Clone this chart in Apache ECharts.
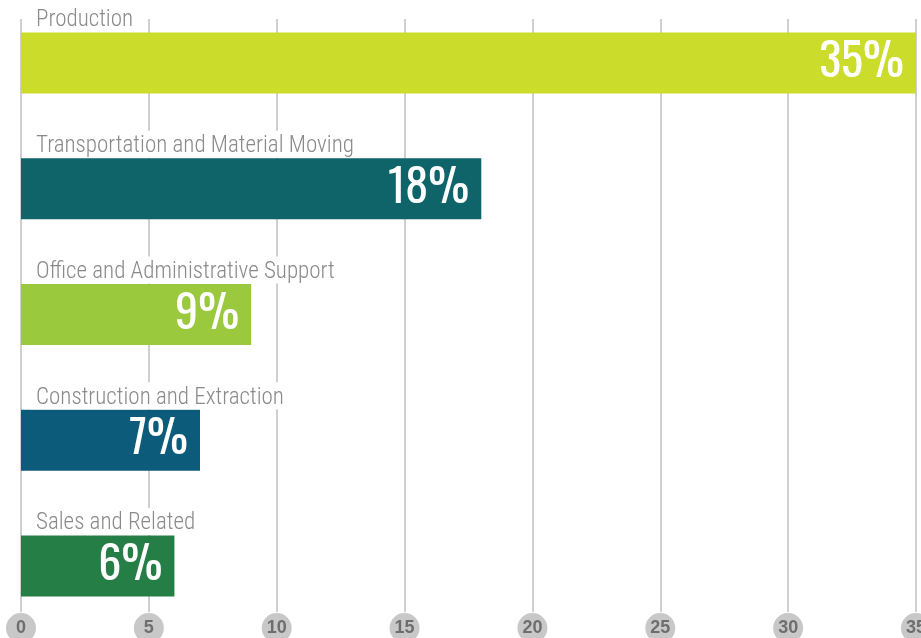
<!DOCTYPE html>
<html>
<head>
<meta charset="utf-8">
<script src="https://cdn.jsdelivr.net/npm/echarts@6/dist/echarts.min.js"></script>
<style>
    html, body { margin: 0; padding: 0; background: #fff; }
    #chart { width: 921px; height: 638px; }
</style>
</head>
<body>
<div id="chart"></div>
<script>
// data
var categories = ['Production', 'Transportation and Material Moving', 'Office and Administrative Support', 'Construction and Extraction', 'Sales and Related'];
var shares = [35, 18, 9, 7, 6];
var barColors = ['#cbdc2a', '#0f6469', '#9bc93d', '#0c5b7a', '#267e47'];
var tickValues = [0, 5, 10, 15, 20, 25, 30, 35];

var myChart = echarts.init(document.getElementById('chart'));

var option = {
    animation: false,
    grid: [
        // bars
        { left: 21, right: 5, top: 0, bottom: 9, containLabel: false, outerBoundsMode: 'none' },
        // vertical lines + round tick labels
        { left: 21, right: 5, top: 19, bottom: 26, containLabel: false, outerBoundsMode: 'none' }
    ],
    xAxis: [{
            gridIndex: 0,
            type: 'value',
            min: 0,
            max: 35,
            interval: 5,
            show: false
        },
        {
            gridIndex: 1,
            type: 'value',
            min: tickValues[0],
            max: tickValues[tickValues.length - 1],
            interval: 5,
            axisLine: { show: false },
            axisTick: { show: false },
            splitLine: {
                show: true,
                lineStyle: { color: '#cfcfcf', width: 2 }
            },
            axisLabel: {
                margin: 1,
                formatter: '{n|{value}}',
                rich: {
                    n: {
                        color: '#6e6e6e',
                        fontFamily: '"Liberation Sans", Arial, sans-serif',
                        fontWeight: 'bold',
                        fontSize: 18,
                        backgroundColor: '#c8c8c9',
                        width: 30,
                        height: 30,
                        lineHeight: 30,
                        align: 'center',
                        borderRadius: 15
                    }
                }
            }
        }
    ],
    yAxis: [{
            gridIndex: 0,
            type: 'category',
            data: categories,
            inverse: true,
            z: 5,
            axisLine: { show: false },
            axisTick: { show: false },
            splitLine: { show: false },
            axisLabel: {
                inside: true,
                margin: 9,
                align: 'left',
                verticalAlign: 'bottom',
                formatter: function(v) {
                    return '{a|' + v + '}\n{b| }';
                },
                rich: {
                    a: {
                        color: '#8a8a8a',
                        fontFamily: '"Roboto Condensed", "Liberation Sans Narrow", Roboto, sans-serif',
                        fontWeight: 300,
                        fontSize: 23,
                        height: 23,
                        lineHeight: 23,
                        padding: [4, 6, 0, 6],
                        backgroundColor: '#fff'
                    },
                    b: {
                        fontSize: 10,
                        height: 33,
                        lineHeight: 33
                    }
                }
            }
        },
        {
            gridIndex: 1,
            type: 'category',
            show: false,
            data: categories
        }
    ],
    series: [{
        type: 'bar',
        xAxisIndex: 0,
        yAxisIndex: 0,
        barWidth: 61,
        data: shares.map(function(v, i) {
            return { value: v, itemStyle: { color: barColors[i] } };
        }),
        label: {
            show: true,
            position: 'insideRight',
            distance: 12,
            color: '#fff',
            fontFamily: '"Oswald", "Roboto Condensed", "Liberation Sans Narrow", sans-serif',
            fontSize: 46,
            formatter: '{c}%'
        }
    }]
};

myChart.setOption(option);
</script>
</body>
</html>
